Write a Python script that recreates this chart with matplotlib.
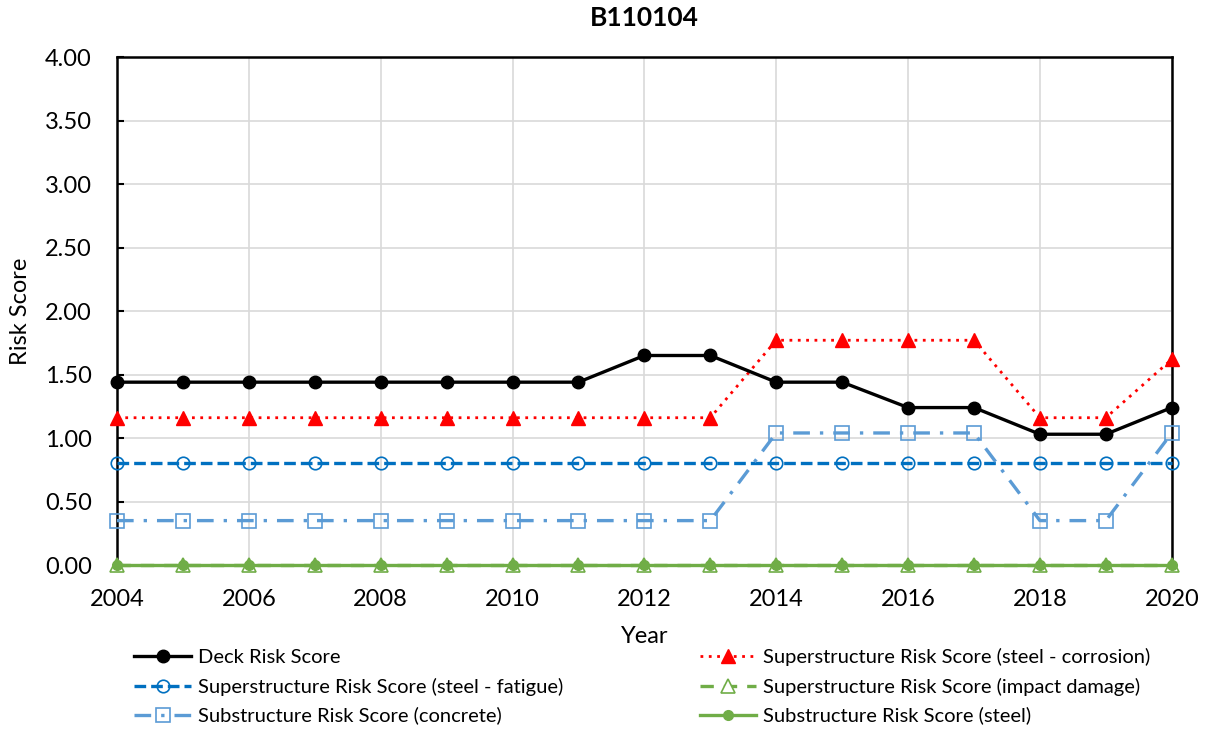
import matplotlib

matplotlib.use("Agg")

import matplotlib.pyplot as plt
import numpy as np

years = list(range(2004, 2021))
deck = [1.44, 1.44, 1.44, 1.44, 1.44, 1.44, 1.44, 1.44, 1.65, 1.65,
        1.44, 1.44, 1.24, 1.24, 1.03, 1.03, 1.24]
super_corrosion = [1.16, 1.16, 1.16, 1.16, 1.16, 1.16, 1.16, 1.16, 1.16, 1.16,
                   1.77, 1.77, 1.77, 1.77, 1.16, 1.16, 1.62]
super_fatigue = [0.80] * 17
super_impact = [0.0] * 17
sub_concrete = [0.35, 0.35, 0.35, 0.35, 0.35, 0.35, 0.35, 0.35, 0.35, 0.35,
                1.04, 1.04, 1.04, 1.04, 0.35, 0.35, 1.04]
sub_steel = [0.0] * 17

plt.rcParams["font.family"] = ["Lato", "DejaVu Sans"]

fig = plt.figure(figsize=(12.11, 7.31), dpi=100)
ax = fig.add_axes([0.0966, 0.227, 0.871, 0.695])

common = dict(clip_on=False)
h_deck, = ax.plot(years, deck, color="black", lw=2.4, marker="o", ms=9,
                  label="Deck Risk Score", zorder=6, **common)
h_corr, = ax.plot(years, super_corrosion, color="#FF0000", lw=2.0, ls=(0, (1, 2)),
                  marker="^", ms=10, label="Superstructure Risk Score (steel - corrosion)",
                  zorder=5, **common)
h_fat, = ax.plot(years, super_fatigue, color="#0070C0", lw=2.4, ls=(0, (3.5, 1.5)),
                 marker="o", ms=9, mfc="none", mew=1.2,
                 label="Superstructure Risk Score (steel - fatigue)", zorder=4, **common)
h_conc, = ax.plot(years, sub_concrete, color="#5B9BD5", lw=2.4, ls=(0, (5, 3, 1, 3)),
                  marker="s", ms=10, mfc="none", mew=1.2,
                  label="Substructure Risk Score (concrete)", zorder=4, **common)
h_imp, = ax.plot(years, super_impact, color="#70AD47", lw=2.4, ls=(0, (4, 3)),
                 marker="^", ms=10, mfc="white", mew=1.2,
                 label="Superstructure Risk Score (impact damage)", zorder=7, **common)
h_steel, = ax.plot(years, sub_steel, color="#70AD47", lw=2.4, marker="o", ms=7,
                   label="Substructure Risk Score (steel)", zorder=8, **common)

ax.set_xlim(2004, 2020)
ax.set_ylim(0, 4)
ax.set_xticks(np.arange(2004, 2021, 2))
ax.set_yticks(np.arange(0, 4.01, 0.5))
ax.set_yticklabels([f"{v:.2f}" for v in np.arange(0, 4.01, 0.5)])
ax.grid(True, color="#D9D9D9", lw=1.2, zorder=0)
ax.set_axisbelow(True)
for side in ax.spines.values():
    side.set_color("black")
    side.set_linewidth(1.8)
ax.tick_params(axis="both", labelsize=17, width=1.5, direction="in")
ax.tick_params(axis="y", length=5, pad=18)
ax.tick_params(axis="x", length=0, pad=17)

ax.set_xlabel("Year", fontsize=17, labelpad=12)
ax.set_ylabel("Risk Score", fontsize=17, labelpad=10)
ax.set_title("B110104", fontsize=19, fontweight="bold", pad=22)

handles = [h_deck, h_fat, h_conc, h_corr, h_imp, h_steel]
fig.legend(handles, [h.get_label() for h in handles], loc="lower left",
           bbox_to_anchor=(0.096, -0.016), ncol=2, frameon=False, fontsize=14.5,
           columnspacing=6.8, handlelength=2.8, handletextpad=0.35,
           labelspacing=0.55)

fig.savefig("out.png", dpi=100)
